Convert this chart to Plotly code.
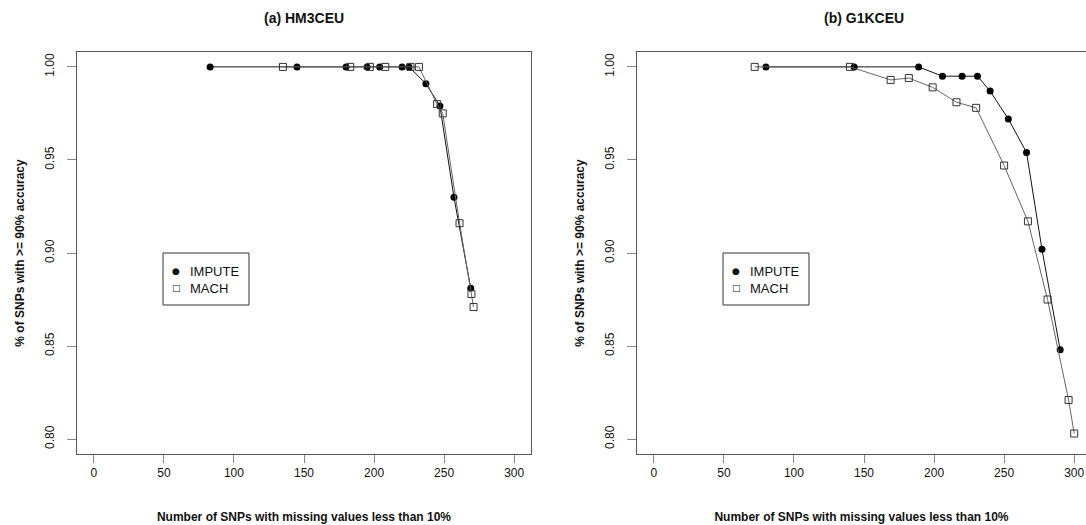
import plotly.graph_objects as go

# ---- data ----
hm3_impute_x = [83, 145, 180, 195, 204, 220, 225, 237, 247, 257, 269]
hm3_impute_y = [1.0, 1.0, 1.0, 1.0, 1.0, 1.0, 1.0, 0.991, 0.979, 0.930, 0.881]
hm3_mach_x = [135, 183, 197, 208, 226, 232, 245, 249, 261, 269.5, 271]
hm3_mach_y = [1.0, 1.0, 1.0, 1.0, 1.0, 1.0, 0.980, 0.975, 0.916, 0.878, 0.871]

g1k_impute_x = [80, 143, 189, 206, 220, 231, 240, 253, 266, 277, 290]
g1k_impute_y = [1.0, 1.0, 1.0, 0.995, 0.995, 0.995, 0.987, 0.972, 0.954, 0.902, 0.848]
g1k_mach_x = [72, 140, 169, 182, 199, 216, 230, 250, 267, 281, 296, 300]
g1k_mach_y = [1.0, 1.0, 0.993, 0.994, 0.989, 0.981, 0.978, 0.947, 0.917, 0.875, 0.821, 0.803]

x_ticks = [0, 50, 100, 150, 200, 250, 300]
y_ticks = [0.80, 0.85, 0.90, 0.95, 1.00]
y_ticklabels = ["0.80", "0.85", "0.90", "0.95", "1.00"]
titles = ["(a) HM3CEU", "(b) G1KCEU"]
series_names = ["IMPUTE", "MACH"]
x_title = "Number of SNPs with missing values less than 10%"
y_title = "% of SNPs with >= 90% accuracy"

W, H = 1086, 525
FONT = "Liberation Sans, Arial, sans-serif"
BOX = "#555555"
TICK = "#888888"

fig = go.Figure()

def add_panel(xs_i, ys_i, xs_m, ys_m, xa, ya):
    fig.add_trace(go.Scatter(x=xs_i, y=ys_i, mode="lines+markers", name=series_names[0],
                             line=dict(color="#111111", width=1),
                             marker=dict(symbol="circle", size=7, color="black"),
                             xaxis=xa, yaxis=ya, showlegend=False))
    fig.add_trace(go.Scatter(x=xs_m, y=ys_m, mode="lines+markers", name=series_names[1],
                             line=dict(color="#666666", width=1),
                             marker=dict(symbol="square-open", size=7, color="#333333",
                                         line=dict(width=1, color="#333333")),
                             xaxis=xa, yaxis=ya, showlegend=False))

add_panel(hm3_impute_x, hm3_impute_y, hm3_mach_x, hm3_mach_y, "x", "y")
add_panel(g1k_impute_x, g1k_impute_y, g1k_mach_x, g1k_mach_y, "x2", "y2")

ydom = [1 - 454 / H, 1 - 52 / H]
x1dom = [77 / W, 531 / W]
x2dom = [637 / W, 1.0]
px_per_unit = (531 - 77) / 324.0
x2max = (W - 637) / px_per_unit - 12

xcommon = dict(tickmode="array", tickvals=x_ticks, ticks="outside", ticklen=8,
               tickcolor=TICK, showgrid=False, zeroline=False, showline=True,
               linecolor=BOX, linewidth=1, mirror=True,
               tickfont=dict(family=FONT, size=12, color="#111111"),
               title=dict(text="<b>" + x_title + "</b>", standoff=33,
                          font=dict(family=FONT, size=12, color="#111111")))
ycommon = dict(tickmode="array", tickvals=y_ticks, ticktext=y_ticklabels, ticks="outside",
               ticklen=9, tickcolor=TICK, tickangle=-90, showgrid=False, zeroline=False,
               showline=True, linecolor=BOX, linewidth=1, ticklabelstandoff=8,
               range=[0.792, 1.008], domain=ydom,
               tickfont=dict(family=FONT, size=12, color="#111111"),
               title=dict(text="<b>" + y_title + "</b>", standoff=16,
                          font=dict(family=FONT, size=12, color="#111111")))

fig.update_layout(
    width=W, height=H,
    margin=dict(l=0, r=0, t=0, b=0),
    paper_bgcolor="white", plot_bgcolor="white",
    showlegend=False,
    xaxis=dict(domain=x1dom, range=[-12, 312], anchor="y", **xcommon),
    yaxis=dict(anchor="x", mirror=True, **ycommon),
    xaxis2=dict(domain=x2dom, range=[-12, x2max], anchor="y2", **xcommon),
    yaxis2=dict(anchor="x2", mirror=False, **ycommon),
)

# panel titles
centers = [(77 + 531) / 2 / W, (637 + 1091) / 2 / W]
for t, cx in zip(titles, centers):
    fig.add_annotation(text="<b>" + t + "</b>", x=cx, y=1 - 18 / H, xref="paper", yref="paper",
                       showarrow=False, xanchor="center", yanchor="middle",
                       font=dict(family=FONT, size=14, color="#111111"))

# legends (drawn as boxed text like the R legend)
for left in [163, 723]:
    fig.add_shape(type="rect", xref="paper", yref="paper",
                  x0=left / W, x1=(left + 86) / W, y0=1 - 305 / H, y1=1 - 253 / H,
                  line=dict(color="#333333", width=1), fillcolor="rgba(0,0,0,0)")
    for sym, name, yy in [("●", series_names[0], 271), ("□", series_names[1], 288)]:
        fig.add_annotation(text=sym, x=(left + 13) / W, y=1 - yy / H, xref="paper", yref="paper",
                           showarrow=False, xanchor="center", yanchor="middle",
                           font=dict(family="DejaVu Sans", size=9, color="#111111"))
        fig.add_annotation(text=name, x=(left + 25) / W, y=1 - yy / H, xref="paper", yref="paper",
                           showarrow=False, xanchor="left", yanchor="middle",
                           font=dict(family=FONT, size=13, color="#111111"))

fig.write_html("out.html", config={"displayModeBar": False},
               post_script="document.body.style.margin='0';document.body.style.overflow='hidden';")
